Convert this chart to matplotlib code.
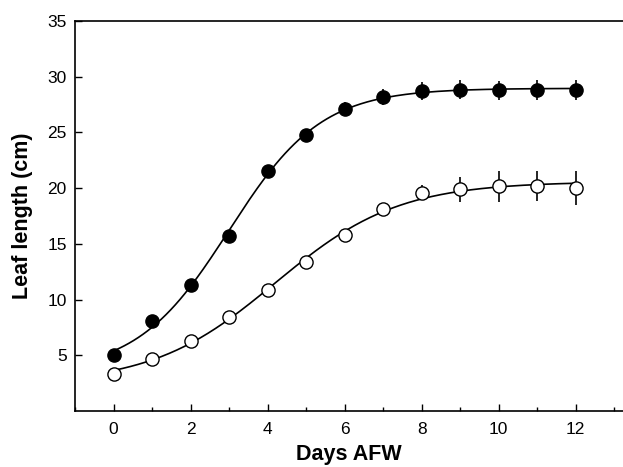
import matplotlib.pyplot as plt
from matplotlib.ticker import MultipleLocator
import numpy as np

plt.rcParams['font.family'] = ['Liberation Sans', 'DejaVu Sans']

days = np.arange(0, 13)
filled = np.array([5.0, 8.05, 11.3, 15.7, 21.5, 24.8, 27.1, 28.2, 28.7, 28.85, 28.8, 28.85, 28.8])
filled_err = np.array([0.2, 0.2, 0.25, 0.3, 0.3, 0.4, 0.6, 0.7, 0.8, 0.85, 0.85, 0.9, 0.9])
opened = np.array([3.35, 4.7, 6.3, 8.4, 10.9, 13.4, 15.8, 18.1, 19.6, 19.9, 20.15, 20.2, 20.0])
opened_err = np.array([0.2, 0.2, 0.2, 0.25, 0.3, 0.3, 0.3, 0.4, 0.7, 1.1, 1.35, 1.35, 1.5])


def fit_logistic(x, y):
    # grid over midpoint and slope, linear least squares for base and amplitude
    best = None
    for x0 in np.linspace(0, 8, 161):
        for b in np.linspace(0.3, 4, 149):
            s = 1.0 / (1.0 + np.exp(-(x - x0) / b))
            A = np.column_stack([np.ones_like(x), s])
            coef, *_ = np.linalg.lstsq(A, y, rcond=None)
            err = np.sum((A @ coef - y) ** 2)
            if best is None or err < best[0]:
                best = (err, x0, b, coef)
    _, x0, b, coef = best
    return lambda t: coef[0] + coef[1] / (1.0 + np.exp(-(t - x0) / b))


fig = plt.figure(figsize=(6.23, 4.67), dpi=100)
ax = fig.add_axes([0.1204, 0.12, 0.8796, 0.835])

xs = np.linspace(0, 12, 300)
for y, e, fc in [(filled, filled_err, 'black'), (opened, opened_err, 'white')]:
    f = fit_logistic(days.astype(float), y)
    ax.plot(xs, f(xs), color='black', lw=1.2, zorder=1)
    ax.errorbar(days, y, yerr=e, fmt='none', ecolor='black', elinewidth=1.2, capsize=0, zorder=2)
    ax.plot(days, y, 'o', ms=9.5, mfc=fc, mec='black', mew=1.0, zorder=3)

ax.set_xlim(-1, 13.23)
ax.set_ylim(0, 35)
ax.xaxis.set_major_locator(MultipleLocator(2))
ax.xaxis.set_minor_locator(MultipleLocator(1))
ax.set_yticks([5, 10, 15, 20, 25, 30, 35])
ax.tick_params(which='both', direction='in', labelsize=12.5, width=1)
ax.tick_params(axis='x', pad=8)
ax.tick_params(axis='y', pad=6)
ax.tick_params(which='major', length=5)
ax.tick_params(which='minor', length=3)
ax.spines['right'].set_visible(False)
for s in ['left', 'bottom', 'top']:
    ax.spines[s].set_linewidth(1.2)

ax.set_xlabel('Days AFW', fontsize=15.5, fontweight='bold', labelpad=5)
ax.set_ylabel('Leaf length (cm)', fontsize=15.5, fontweight='bold', labelpad=10)

fig.savefig('out.png', dpi=100)
